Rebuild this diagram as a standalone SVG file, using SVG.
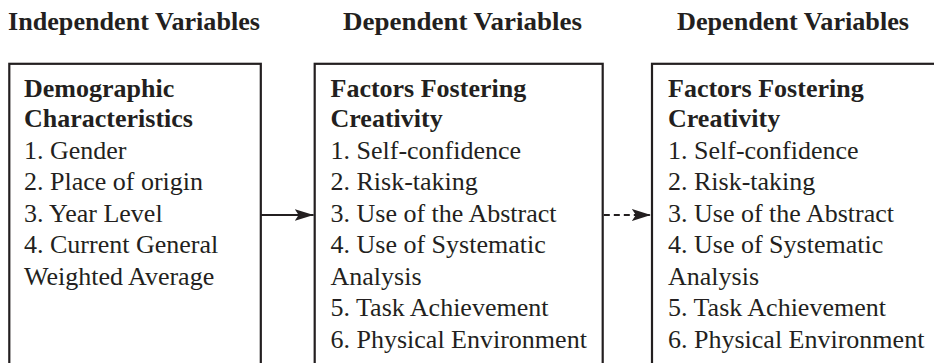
<svg xmlns="http://www.w3.org/2000/svg" width="934" height="363" viewBox="0 0 934 363" font-family="'Liberation Serif', 'Times New Roman', serif">
  <defs>
    <style>
      text { font-size: 26px; fill: #231f20; }
      .b { font-weight: bold; }
      .box { fill: #ffffff; stroke: #231f20; stroke-width: 2.2; }
      .link { fill: none; stroke: #231f20; stroke-width: 2.2; }
      .dash { stroke-dasharray: 6 4; }
    </style>
    <marker id="head" markerUnits="userSpaceOnUse" markerWidth="20" markerHeight="14" refX="19" refY="6" orient="auto">
      <path d="M0,0 L19,6 L0,12 L4,6 Z" fill="#231f20"/>
    </marker>
  </defs>
  <rect width="934" height="363" fill="#ffffff"/>

  <!-- column headings -->
  <g id="headings">
    <text class="b" x="8" y="30" textLength="252" lengthAdjust="spacingAndGlyphs">Independent Variables</text>
    <text class="b" x="343" y="30" textLength="239" lengthAdjust="spacingAndGlyphs">Dependent Variables</text>
    <text class="b" x="677" y="30" textLength="232" lengthAdjust="spacingAndGlyphs">Dependent Variables</text>
  </g>

  <!-- independent variables box -->
  <g id="demographic">
    <rect class="box" x="9.3" y="63.8" width="251.5" height="320"/>
    <text class="b" x="24" y="97">Demographic</text>
    <text class="b" x="24" y="127">Characteristics</text>
    <text x="24" y="158.5">1. Gender</text>
    <text x="24" y="190">2. Place of origin</text>
    <text x="24" y="221.5">3. Year Level</text>
    <text x="24" y="253">4. Current General</text>
    <text x="24" y="284.5">Weighted Average</text>
  </g>

  <!-- first dependent variables box -->
  <g id="factors-a">
    <rect class="box" x="314.7" y="63.8" width="288" height="320"/>
    <text class="b" x="330.5" y="97">Factors Fostering</text>
    <text class="b" x="330.5" y="127">Creativity</text>
    <text x="330.5" y="158.5">1. Self-confidence</text>
    <text x="330.5" y="190">2. Risk-taking</text>
    <text x="330.5" y="221.5">3. Use of the Abstract</text>
    <text x="330.5" y="253">4. Use of Systematic</text>
    <text x="330.5" y="284.5">Analysis</text>
    <text x="330.5" y="316">5. Task Achievement</text>
    <text x="330.5" y="347.5">6. Physical Environment</text>
  </g>

  <!-- second dependent variables box -->
  <g id="factors-b">
    <rect class="box" x="652" y="63.8" width="300" height="320"/>
    <text class="b" x="668" y="97">Factors Fostering</text>
    <text class="b" x="668" y="127">Creativity</text>
    <text x="668" y="158.5">1. Self-confidence</text>
    <text x="668" y="190">2. Risk-taking</text>
    <text x="668" y="221.5">3. Use of the Abstract</text>
    <text x="668" y="253">4. Use of Systematic</text>
    <text x="668" y="284.5">Analysis</text>
    <text x="668" y="316">5. Task Achievement</text>
    <text x="668" y="347.5">6. Physical Environment</text>
  </g>

  <!-- connectors -->
  <g id="connectors">
    <line class="link" x1="261" y1="215" x2="313.6" y2="215" marker-end="url(#head)"/>
    <line class="link dash" x1="603.8" y1="215" x2="650.9" y2="215" marker-end="url(#head)"/>
  </g>
</svg>
